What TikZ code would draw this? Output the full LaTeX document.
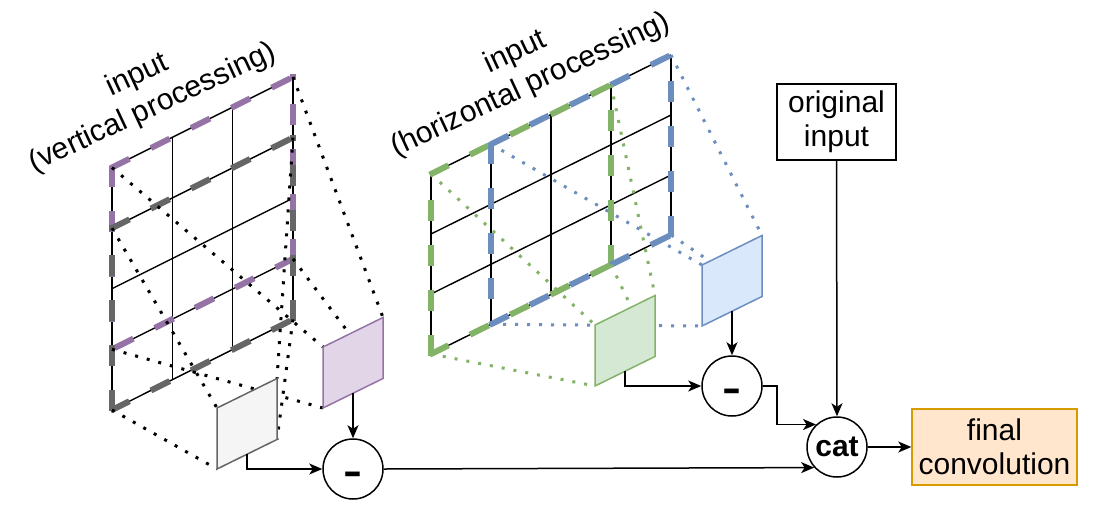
\documentclass[tikz,border=0pt]{standalone}
\usepackage{fontspec}
\setmainfont{Liberation Sans}
\usetikzlibrary{arrows.meta,calc}
\definecolor{purp}{HTML}{9673A6}
\definecolor{purpfill}{HTML}{E1D5E7}
\definecolor{grayd}{HTML}{666666}
\definecolor{grayfill}{HTML}{F5F5F5}
\definecolor{grn}{HTML}{82B366}
\definecolor{grnfill}{HTML}{D5E8D4}
\definecolor{blu}{HTML}{6C8EBF}
\definecolor{blufill}{HTML}{DAE8FC}
\definecolor{orfill}{HTML}{FFE6CC}
\definecolor{orline}{HTML}{D79B00}
\begin{document}
\begin{tikzpicture}[x=1pt,y=-1pt,
  gridline/.style={line width=1.4pt, black},
  winline/.style={line width=6pt, line cap=rect, dash pattern=on 15pt off 30pt, dash phase=43.5pt},
  proj/.style={line width=3pt, dash pattern=on 3pt off 9pt},
  smallpar/.style={line width=1.5pt, line join=miter},
  conn/.style={line width=1.5pt, -{Stealth[length=13pt,width=11pt,inset=3.5pt]}},
  op/.style={circle, draw, line width=1.5pt, fill=white, minimum size=60pt, inner sep=0pt, font=\fontsize{30}{36}\selectfont\bfseries},
  minus/.style={op, text height=0pt, text depth=0pt},
  box/.style={draw, line width=1.5pt, inner sep=0pt, align=center, font=\fontsize{30}{34}\selectfont},
  lbl/.style={align=center, rotate=25, font=\fontsize{30}{36}\selectfont, inner sep=0pt}
]
\useasboundingbox (0,0) rectangle (1094,504);
% grid coordinates
\foreach \i in {0,...,4} \foreach \j in {0,...,3}
  \coordinate (L\i\j) at ({112+60.33*\j},{167.5+60.6*\i-30.17*\j});
\foreach \i in {0,...,3} \foreach \j in {0,...,4}
  \coordinate (M\i\j) at ({431+60*\j},{174+60*\i-29.75*\j});
% small parallelogram coordinates
\foreach \n/\x/\y in {pu/323/347, gr/217/408, gn/595/325, bl/702/265} {
  \coordinate (\n TL) at (\x,\y);
  \coordinate (\n TR) at ({\x+60},{\y-29.5});
  \coordinate (\n BR) at ({\x+60},{\y+31.5});
  \coordinate (\n BL) at (\x,{\y+61});
  \coordinate (\n B) at ({\x+30},{\y+46.25});
}
% grids
\foreach \i in {0,...,4} \draw[gridline] (L\i0) -- (L\i3);
\foreach \j in {0,...,3} \draw[gridline] (L0\j) -- (L4\j);
\foreach \i in {0,...,3} \draw[gridline] (M\i0) -- (M\i4);
\foreach \j in {0,...,4} \draw[gridline] (M0\j) -- (M3\j);
% windows
\draw[winline, purp] (L00) -- (L03);
\draw[winline, purp] (L33) -- (L03);
\draw[winline, purp] (L33) -- (L30);
\draw[winline, purp] (L00) -- (L30);
\draw[winline, grayd] (L10) -- (L13);
\draw[winline, grayd] (L43) -- (L13);
\draw[winline, grayd] (L40) -- (L43);
\draw[winline, grayd] (L40) -- (L10);
\draw[winline, grn] (M00) -- (M03);
\draw[winline, grn] (M33) -- (M03);
\draw[winline, grn] (M30) -- (M33);
\draw[winline, grn] (M30) -- (M00);
\draw[winline, blu] (M01) -- (M04);
\draw[winline, blu] (M34) -- (M04);
\draw[winline, blu] (M31) -- (M34);
\draw[winline, blu] (M01) -- (M31);
% projections
\draw[proj, black] (L00) -- (puTL) (L03) -- (puTR) (L33) -- (puBR) (L30) -- (puBL);
\draw[proj, black] (L10) -- (grTL) (L13) -- (grTR) (L43) -- (grBR) (L40) -- (grBL);
\draw[proj, grn] (M00) -- (gnTL) (M03) -- (gnTR) (M33) -- (gnBR) (M30) -- (gnBL);
\draw[proj, blu] (M01) -- (blTL) (M04) -- (blTR) (M34) -- (blBR) (M31) -- (blBL);
% small parallelograms
\draw[smallpar, draw=purp, fill=purpfill] (puTL) -- (puTR) -- (puBR) -- (puBL) -- cycle;
\draw[smallpar, draw=grayd, fill=grayfill] (grTL) -- (grTR) -- (grBR) -- (grBL) -- cycle;
\draw[smallpar, draw=grn, fill=grnfill] (gnTL) -- (gnTR) -- (gnBR) -- (gnBL) -- cycle;
\draw[smallpar, draw=blu, fill=blufill] (blTL) -- (blTR) -- (blBR) -- (blBL) -- cycle;
% nodes
\node[minus] (m1) at (353,469) {\raisebox{-15pt}[0pt][0pt]{\scalebox{1.9}[1.3]{-}}};
\node[minus] (m2) at (732,386) {\raisebox{-15pt}[0pt][0pt]{\scalebox{1.9}[1.3]{-}}};
\node[op] (cat) at (837,447) {cat};
\node[box, minimum width=119pt, minimum height=76pt] (orig) at (836.5,122) {original\\input};
\node[box, fill=orfill, draw=orline, minimum width=165pt, minimum height=76pt] (final) at (994.5,447) {final\\convolution};
\node[lbl] (lab1) at (145,92) {input\\(vertical processing)};
\node[lbl] (lab2) at (523,69) {input\\(horizontal processing)};
% connectors
\draw[conn] (grB) |- (m1.west);
\draw[conn] (puB) -- (m1.north);
\draw[conn] (m1.east) -- (cat.222);
\draw[conn] (gnB) |- (m2.west);
\draw[conn] (blB) -- (m2.north);
\draw[conn] (m2.east) -- ++(14,0) |- (cat.133);
\draw[conn] (orig.south) -- (cat.north);
\draw[conn] (cat.east) -- (final.west);
\end{tikzpicture}
\end{document}
